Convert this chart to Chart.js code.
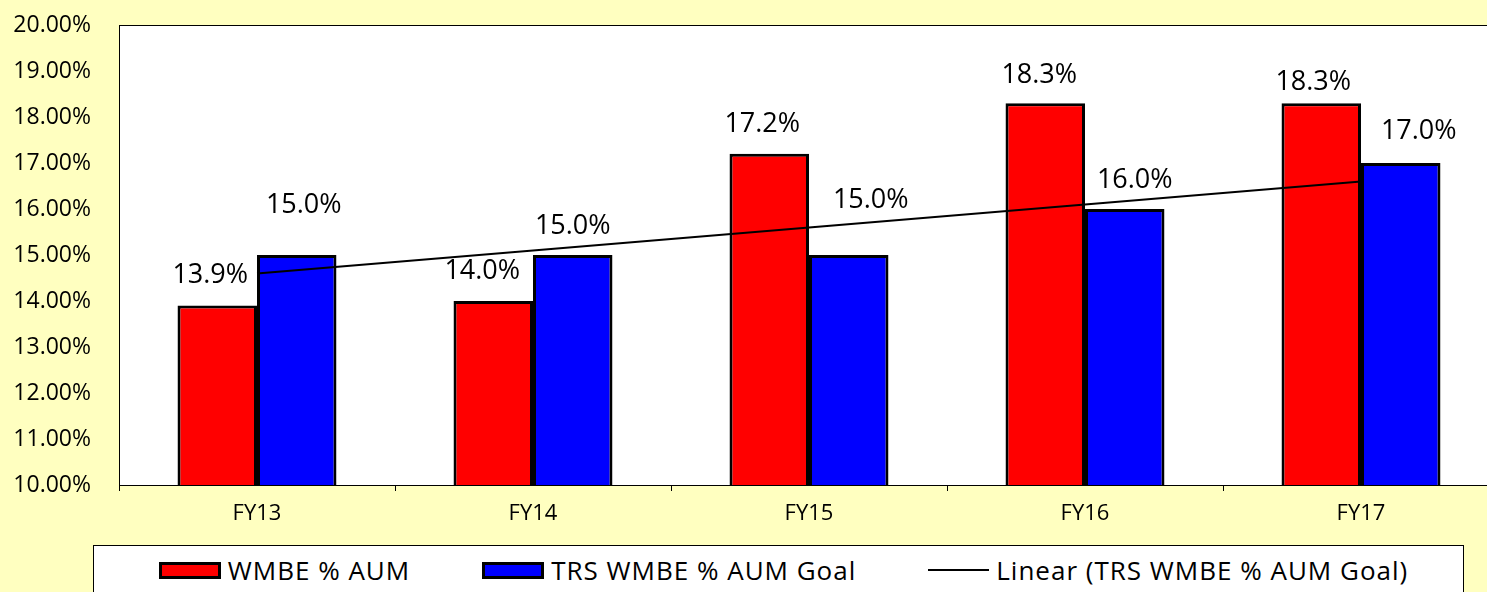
<!DOCTYPE html>
<html>
<head>
<meta charset="utf-8">
<script src="https://cdn.jsdelivr.net/npm/chart.js@4.4.1/dist/chart.umd.min.js"></script>
<style>
  html, body { margin: 0; padding: 0; background: #FFFFC0; overflow: hidden; }
  #wrap { position: relative; width: 1487px; height: 592px; overflow: hidden; }
  #myChart { position: absolute; left: 0; top: 0; }
  #legend {
    position: absolute; left: 93px; top: 545px; width: 1371px; height: 80px;
    background: #fff; border: 1px solid #000; box-sizing: border-box;
    font-family: "Open Sans", sans-serif; font-size: 26px; letter-spacing: 1px; color: #000;
  }
  #legend .row { display: flex; justify-content: center; align-items: center; height: 34px; margin-top: 7px; padding-left: 10px; gap: 72px; }
  #legend .item { display: flex; align-items: center; white-space: nowrap; }
  #legend .box { display: inline-block; width: 62px; height: 17px; border: 3px solid #000; box-sizing: border-box; margin-right: 7px; }
  #legend .line { display: inline-block; width: 61px; height: 2px; background: #000; margin-right: 7px; }
</style>
</head>
<body>
<div id="wrap">
  <canvas id="myChart" width="1499" height="545"></canvas>
  <div id="legend"><div class="row"></div></div>
</div>
<script>
const years = ["FY13", "FY14", "FY15", "FY16", "FY17"];
const wmbeAum = [13.9, 14.0, 17.2, 18.3, 18.3];
const trsGoal = [15.0, 15.0, 15.0, 16.0, 17.0];
const trsTrend = [14.6, 15.1, 15.6, 16.1, 16.6];
const yTicks = [10, 11, 12, 13, 14, 15, 16, 17, 18, 19, 20];

// label nudges (px) so the data labels sit where the original had them
const labelNudge = [
  { dx: [-7, -11, -7, -6, -8], dy: [30, 30, 29, 28, 21] },
  { dx: [7, 0, 22, 10, 18], dy: [50, 29, 55, 29, 32] },
];

const plotArea = {
  id: "plotArea",
  beforeDraw(chart) {
    const { ctx, chartArea: a } = chart;
    ctx.save();
    ctx.fillStyle = "#fff";
    ctx.fillRect(a.left, a.top, a.right - a.left, a.bottom - a.top);
    ctx.strokeStyle = "#000";
    ctx.lineWidth = 1;
    ctx.strokeRect(a.left + 0.5, a.top + 0.5, a.right - a.left, a.bottom - a.top);
    ctx.restore();
  },
};

const barLabels = {
  id: "barLabels",
  afterDatasetsDraw(chart) {
    const ctx = chart.ctx;
    ctx.save();
    ctx.font = '27px "Open Sans"';
    ctx.fillStyle = "#000";
    ctx.textAlign = "center";
    ctx.textBaseline = "middle";
    [0, 1].forEach((di) => {
      const meta = chart.getDatasetMeta(di);
      meta.data.forEach((bar, i) => {
        const v = chart.data.datasets[di].data[i];
        ctx.fillText(v.toFixed(1) + "%", bar.x + labelNudge[di].dx[i], bar.y - labelNudge[di].dy[i]);
      });
    });
    ctx.restore();
  },
};

const myChart = new Chart(document.getElementById("myChart").getContext("2d"), {
  type: "bar",
  data: {
    labels: years,
    datasets: [
      {
        label: "WMBE % AUM",
        data: wmbeAum,
        backgroundColor: "#FF0000",
        borderColor: "#000",
        borderWidth: 3,
        categoryPercentage: 0.576,
        barPercentage: 1,
        order: 1,
      },
      {
        label: "TRS WMBE % AUM Goal",
        data: trsGoal,
        backgroundColor: "#0000FF",
        borderColor: "#000",
        borderWidth: 3,
        categoryPercentage: 0.576,
        barPercentage: 1,
        order: 1,
      },
      {
        type: "line",
        label: "Linear (TRS WMBE % AUM Goal)",
        data: trsTrend,
        borderColor: "#000",
        borderWidth: 2,
        pointRadius: 0,
        fill: false,
        tension: 0,
        order: 0,
      },
    ],
  },
  options: {
    responsive: false,
    animation: false,
    layout: { padding: { top: 25, left: 0, right: 0, bottom: 0 } },
    plugins: {
      legend: { display: false },
      tooltip: { enabled: false },
    },
    scales: {
      x: {
        offset: true,
        grid: { drawOnChartArea: false, drawTicks: true, tickLength: 6, color: "#000", offset: true },
        border: { color: "#000", width: 1 },
        ticks: { color: "#000", padding: 10, font: { family: "Open Sans", size: 22 } },
        afterFit(scale) { scale.height = 60; },
      },
      y: {
        min: 10,
        max: 20,
        // grid hidden, but tickLength still spaces the labels off the axis
        grid: { display: false, drawTicks: true, tickLength: 28 },
        border: { color: "#000", width: 1 },
        ticks: {
          color: "#000",
          padding: 0,
          stepSize: 1,
          font: { family: "Open Sans", size: 23 },
          callback: (v) => (yTicks.includes(v) ? v.toFixed(2) + "%" : ""),
        },
        afterFit(scale) { scale.width = 119; },
      },
    },
  },
  plugins: [plotArea, barLabels],
});

// html legend built from the datasets
const row = document.querySelector("#legend .row");
myChart.data.datasets.forEach((ds) => {
  const item = document.createElement("span");
  item.className = "item";
  const mark = document.createElement("span");
  if (ds.type === "line") {
    mark.className = "line";
  } else {
    mark.className = "box";
    mark.style.background = ds.backgroundColor;
  }
  item.appendChild(mark);
  item.appendChild(document.createTextNode(ds.label));
  row.appendChild(item);
});
</script>
</body>
</html>
